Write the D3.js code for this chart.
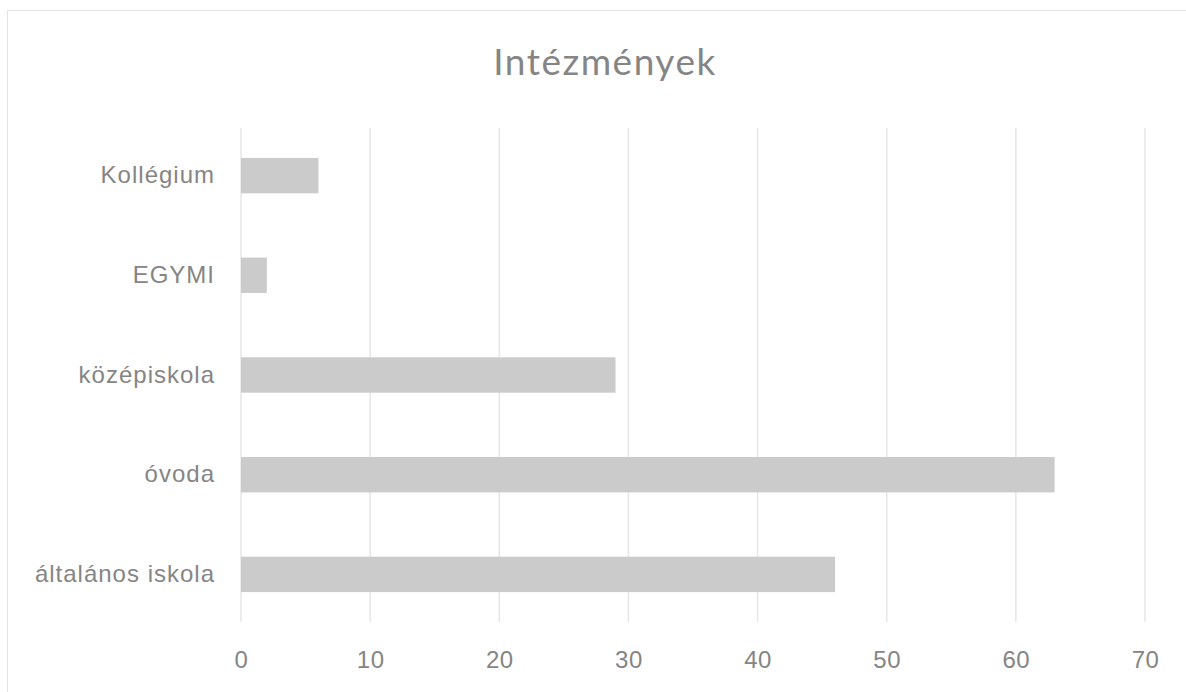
<!DOCTYPE html>
<html>
<head>
<meta charset="utf-8">
<script src="https://cdn.jsdelivr.net/npm/d3@7"></script>
<style>
  html, body { margin: 0; padding: 0; background: #fff; }
  svg { display: block; font-family: Lato, "Open Sans", sans-serif; }
</style>
</head>
<body>
<script>
// Chart data.
var chartTitle = "Intézmények";
var categories = ["Kollégium", "EGYMI", "középiskola", "óvoda", "általános iskola"];
var counts = [6, 2, 29, 63, 46];
var xTicks = [0, 10, 20, 30, 40, 50, 60, 70];

var width = 1186, height = 692;
var plot = {left: 241, right: 1145, top: 128, bottom: 622};

var svg = d3.select("body").append("svg")
  .attr("width", width)
  .attr("height", height);

// outer chart frame (only left and top edges fall inside the picture)
svg.append("rect")
  .attr("x", 7.5).attr("y", 10.5)
  .attr("width", width + 20).attr("height", height + 20)
  .attr("fill", "none")
  .attr("stroke", "#e4e4e4");

var x = d3.scaleLinear().domain([0, 70]).range([plot.left, plot.right]);
var y = d3.scaleBand().domain(categories)
  .range([plot.top, plot.bottom])
  .paddingInner(0.645)
  .paddingOuter(0.3);

// vertical gridlines
svg.append("g")
  .selectAll("line")
  .data(xTicks)
  .enter().append("line")
  .attr("x1", function(d) { return x(d); })
  .attr("x2", function(d) { return x(d); })
  .attr("y1", plot.top)
  .attr("y2", plot.bottom)
  .attr("stroke", "#e6e6e6")
  .attr("stroke-width", 1.5);

// bars
svg.append("g")
  .selectAll("rect")
  .data(categories)
  .enter().append("rect")
  .attr("x", x(0))
  .attr("y", function(d) { return y(d); })
  .attr("width", function(d, i) { return x(counts[i]) - x(0); })
  .attr("height", y.bandwidth())
  .attr("fill", "#cbcbcb");

// x axis labels
var xAxis = svg.append("g")
  .attr("transform", "translate(0," + plot.bottom + ")")
  .call(d3.axisBottom(x).tickValues(xTicks).tickSize(0).tickPadding(29));
xAxis.select(".domain").remove();
xAxis.selectAll("text")
  .attr("fill", "#858585")
  .style("font-size", "24px")
  .style("letter-spacing", "0.5px");

// category labels
var yAxis = svg.append("g")
  .attr("transform", "translate(" + (plot.left - 26) + ",0)")
  .call(d3.axisLeft(y).tickSize(0).tickPadding(0));
yAxis.select(".domain").remove();
yAxis.selectAll("text")
  .attr("fill", "#858585")
  .style("font-size", "24px")
  .style("letter-spacing", "1px");

// title
svg.append("text")
  .attr("x", 605)
  .attr("y", 75)
  .attr("text-anchor", "middle")
  .attr("fill", "#858585")
  .style("font-size", "37px")
  .style("letter-spacing", "1.5px")
  .text(chartTitle);
</script>
</body>
</html>
